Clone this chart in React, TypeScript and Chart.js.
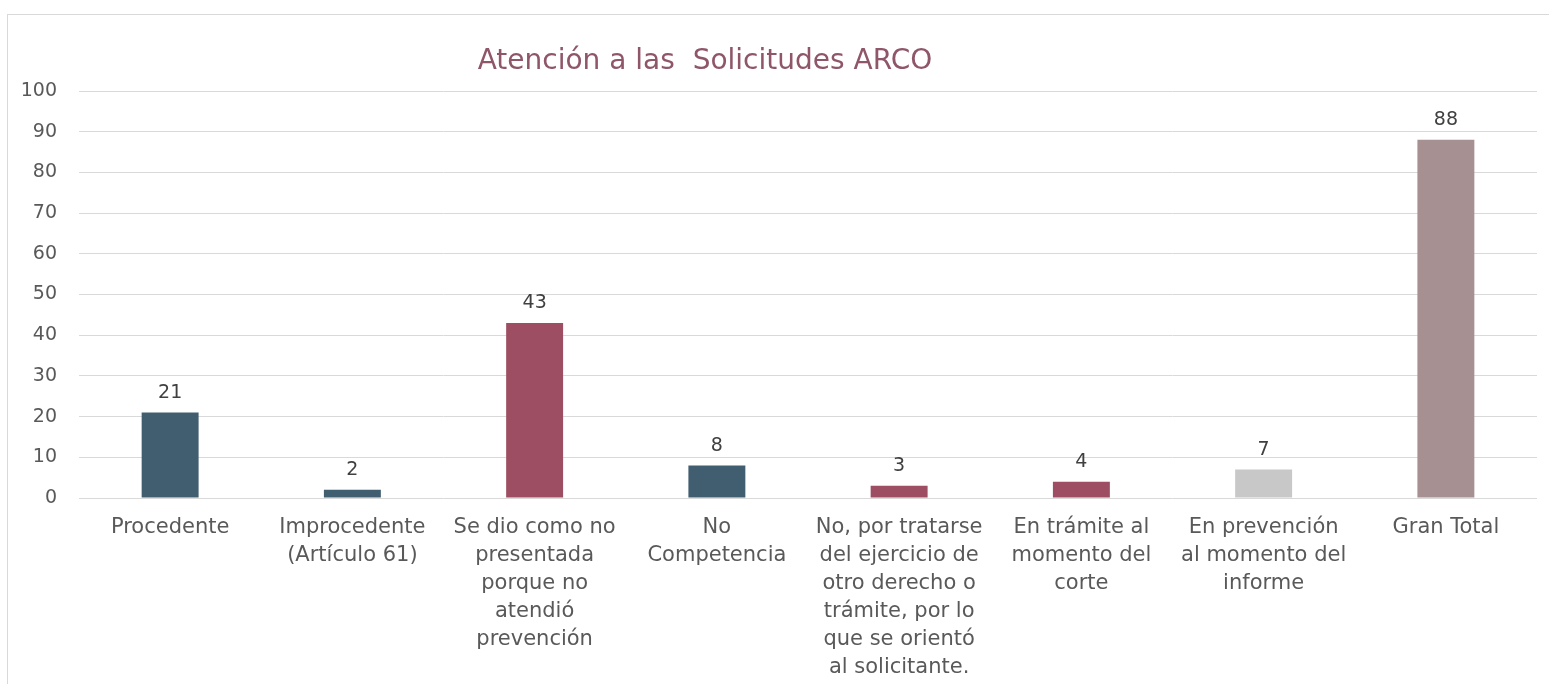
import React, { useEffect, useRef } from "react";
import { Chart, registerables } from "chart.js";

Chart.register(...registerables);

const TITLE = "Atención a las  Solicitudes ARCO";

const CATEGORIES: (string | string[])[] = [
  "Procedente",
  ["Improcedente", "(Artículo 61)"],
  ["Se dio como no", "presentada", "porque no", "atendió", "prevención"],
  ["No", "Competencia"],
  ["No, por tratarse", "del ejercicio de", "otro derecho o", "trámite, por lo", "que se orientó", "al solicitante."],
  ["En trámite al", "momento del", "corte"],
  ["En prevención", "al momento del", "informe"],
  "Gran Total",
];

const VALUES: number[] = [21, 2, 43, 8, 3, 4, 7, 88];

const BAR_COLORS: string[] = [
  "#415e70",
  "#415e70",
  "#9d4e62",
  "#415e70",
  "#9d4e62",
  "#9d4e62",
  "#c8c8c8",
  "#a69092",
];

const Y_MIN = 0;
const Y_MAX = 100;
const Y_STEP = 10;

const FONT = "'DejaVu Sans', sans-serif";

const valueLabels = {
  id: "valueLabels",
  afterDatasetsDraw(chart: any) {
    const ctx = chart.ctx;
    const meta = chart.getDatasetMeta(0);
    ctx.save();
    ctx.font = `19px ${FONT}`;
    ctx.fillStyle = "#404040";
    ctx.textAlign = "center";
    ctx.textBaseline = "bottom";
    meta.data.forEach((bar: any, i: number) => {
      ctx.fillText(String(VALUES[i]), bar.x, bar.y - 10);
    });
    ctx.restore();
  },
};

const titlePlugin = {
  id: "customTitle",
  afterDraw(chart: any) {
    const ctx = chart.ctx;
    ctx.save();
    ctx.font = `28px ${FONT}`;
    ctx.fillStyle = "#8f5669";
    ctx.textAlign = "center";
    ctx.textBaseline = "middle";
    ctx.fillText(TITLE, 705, 62);
    ctx.restore();
  },
};

export default function App() {
  const canvasRef = useRef<HTMLCanvasElement | null>(null);

  useEffect(() => {
    if (!canvasRef.current) return;
    const chart = new Chart(canvasRef.current, {
      type: "bar",
      data: {
        labels: CATEGORIES,
        datasets: [
          {
            data: VALUES,
            backgroundColor: BAR_COLORS,
            borderWidth: 0,
            barPercentage: 0.625,
            categoryPercentage: 0.5,
          },
        ],
      },
      options: {
        animation: false,
        responsive: false,
        maintainAspectRatio: false,
        layout: { padding: { left: 0, right: 12, top: 91, bottom: 0 } },
        plugins: {
          legend: { display: false },
          title: { display: false },
          tooltip: { enabled: false },
        },
        scales: {
          x: {
            grid: { display: false, drawTicks: false },
            border: { display: false },
            ticks: {
              color: "#595959",
              font: { family: FONT, size: 21, lineHeight: 1.33 },
              padding: 16,
              maxRotation: 0,
              autoSkip: false,
            },
            afterFit(scale: any) {
              scale.height = 186;
            },
          },
          y: {
            min: Y_MIN,
            max: Y_MAX,
            grid: { color: "#d9d9d9", lineWidth: 1, drawTicks: false },
            border: { display: false },
            ticks: {
              stepSize: Y_STEP,
              color: "#595959",
              font: { family: FONT, size: 19 },
              padding: 22,
            },
            afterFit(scale: any) {
              scale.width = 79;
            },
          },
        },
      },
      plugins: [valueLabels, titlePlugin],
    });
    return () => chart.destroy();
  }, []);

  return (
    <div
      style={{
        position: "absolute",
        left: 0,
        top: 0,
        width: 1549,
        height: 684,
        overflow: "hidden",
        background: "#ffffff",
      }}
    >
      <div
        style={{
          position: "absolute",
          left: 7,
          top: 14,
          width: 1700,
          height: 800,
          border: "1px solid #d9d9d9",
          boxSizing: "border-box",
        }}
      />
      <canvas
        ref={canvasRef}
        width={1549}
        height={684}
        style={{ position: "absolute", left: 0, top: 0, width: 1549, height: 684 }}
      />
    </div>
  );
}
